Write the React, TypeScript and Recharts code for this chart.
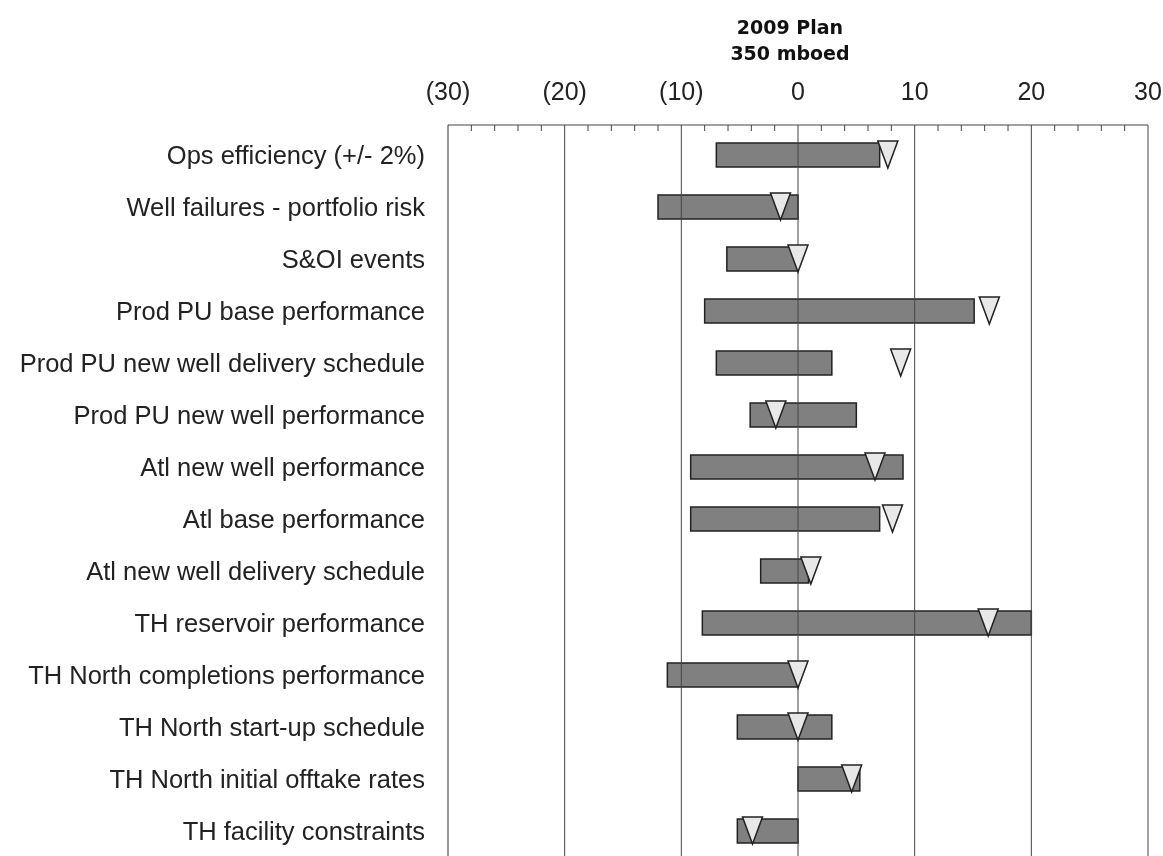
import React from 'react'
import { ComposedChart, Bar, Line, XAxis, YAxis, ReferenceLine } from 'recharts'

// Tornado: each row has a low/high range bar and a triangle marking the plan case
const categories = [
  'Ops efficiency (+/- 2%)',
  'Well failures - portfolio risk',
  'S&OI events',
  'Prod PU base performance',
  'Prod PU new well delivery schedule',
  'Prod PU new well performance',
  'Atl new well performance',
  'Atl base performance',
  'Atl new well delivery schedule',
  'TH reservoir performance',
  'TH North completions performance',
  'TH North start-up schedule',
  'TH North initial offtake rates',
  'TH facility constraints',
]
const lowValues = [-7, -12, -6.1, -8, -7, -4.1, -9.2, -9.2, -3.2, -8.2, -11.2, -5.2, 0, -5.2]
const highValues = [7, 0, 0, 15.1, 2.9, 5, 9, 7, 0.9, 20, 0, 2.9, 5.3, 0]
const markerValues = [7.7, -1.5, 0, 16.4, 8.8, -1.9, 6.6, 8.1, 1.1, 16.3, 0, 0, 4.6, -3.9]

const axisTicks = [-30, -28, -26, -24, -22, -20, -18, -16, -14, -12, -10, -8, -6, -4, -2, 0, 2, 4, 6, 8, 10, 12, 14, 16, 18, 20, 22, 24, 26, 28, 30]
const gridValues = [-20, -10, 0, 10, 20, 30]

const rows = categories.map((name, i) => ({
  name,
  range: [lowValues[i], highValues[i]],
  mark: markerValues[i],
}))

const FONT = '"Liberation Sans", Arial, Helvetica, sans-serif'

const fmt = (v: number) => (v < 0 ? `(${-v})` : `${v}`)

// top axis: labels every 10, small ticks pointing down into the plot every 2
const TopTick = (props: any) => {
  const { x, y, payload } = props
  const v = payload.value as number
  return (
    <g>
      {v % 10 !== 0 && <line x1={x} x2={x} y1={y} y2={y + 6} stroke="#444" strokeWidth={1} />}
      {v % 10 === 0 && (
        <text x={x} y={y - 25} textAnchor="middle" fill="#222" fontSize={25} fontFamily={FONT}>
          {fmt(v)}
        </text>
      )}
    </g>
  )
}

const Triangle = (props: any) => {
  const { cx, cy } = props
  if (cx == null || cy == null) return null
  return (
    <path
      d={`M${cx - 10},${cy - 14} L${cx + 10},${cy - 14} L${cx},${cy + 13} Z`}
      fill="#e8e8e8"
      stroke="#222"
      strokeWidth={1.5}
    />
  )
}

const App: React.FC = () => {
  return (
    <div style={{ position: 'fixed', left: 8, top: 8, width: 1155, height: 860 }}>
      <div
        style={{
          position: 'absolute',
          left: 682,
          top: 6,
          width: 200,
          textAlign: 'center',
          fontFamily: '"DejaVu Sans", Verdana, sans-serif',
          fontWeight: 'bold',
          fontSize: 19,
          lineHeight: '26px',
          color: '#111',
        }}
      >
        <div>2009 Plan</div>
        <div>350 mboed</div>
      </div>
      <ComposedChart
        width={1155}
        height={860}
        data={rows}
        layout="vertical"
        margin={{ top: 0, right: 15, bottom: 7, left: 0 }}
        style={{ overflow: 'visible' }}
      >
        <XAxis
          type="number"
          orientation="top"
          domain={[-30, 30]}
          ticks={axisTicks}
          interval={0}
          height={117}
          tickSize={0}
          tickMargin={0}
          tickLine={false}
          axisLine={{ stroke: '#444' }}
          tick={<TopTick />}
        />
        <YAxis
          type="category"
          dataKey="name"
          width={440}
          interval={0}
          tickSize={0}
          tickMargin={23}
          tickLine={false}
          padding={{ top: 4, bottom: 4 }}
          axisLine={{ stroke: '#333' }}
          tick={{ fill: '#222', fontSize: 25.5, fontFamily: FONT }}
        />
        <Bar dataKey="range" barSize={24} fill="#808080" stroke="#222" strokeWidth={1.5} isAnimationActive={false} />
        {gridValues.map((v) => (
          <ReferenceLine key={v} x={v} stroke="#444" strokeWidth={1} />
        ))}
        <Line
          dataKey="mark"
          stroke="none"
          dot={<Triangle />}
          activeDot={false}
          isAnimationActive={false}
        />
      </ComposedChart>
    </div>
  )
}

export default App
